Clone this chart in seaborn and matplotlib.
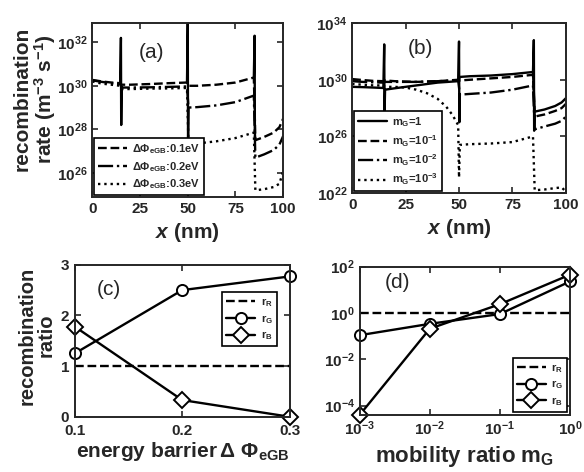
import numpy as np
import seaborn as sns
import matplotlib
matplotlib.use("Agg")
import matplotlib.pyplot as plt

"""Дані панелі (a): x у нм, показники степеня швидкості рекомбінації"""
a_x = [0, 5, 10, 14.6, 15.4, 20, 30, 40, 49.6, 50.4, 55, 65, 75, 84.6, 85.4, 90, 95, 98, 100]
a_exp_01 = [30.27, 30.2, 30.15, 30.12, 30.05, 30.05, 30.08, 30.12, 30.15, 30.0, 30.0, 30.05, 30.15, 30.38,
            27.5, 27.65, 27.85, 28.1, 28.5]
a_exp_02 = [30.25, 30.18, 30.12, 30.08, 29.92, 29.92, 29.93, 29.95, 29.97, 29.0, 29.02, 29.1, 29.25, 29.55,
            26.7, 26.85, 27.05, 27.3, 27.7]
a_exp_03 = [30.2, 30.1, 30.05, 30.0, 29.85, 29.85, 29.87, 29.88, 29.9, 27.3, 27.35, 27.45, 27.6, 27.85,
            25.2, 25.25, 25.35, 25.5, 26.1]
a_labels = [r'$\Delta\Phi_{eGB}$:0.1eV', r'$\Delta\Phi_{eGB}$:0.2eV', r'$\Delta\Phi_{eGB}$:0.3eV']
a_spike_x = [[14.6, 15.0, 15.15, 15.4], [49.6, 50.0, 50.15, 50.4], [84.6, 85.0, 85.15, 85.4]]
a_spike_exp = [[30.1, 32.2, 28.2, 29.95], [30.15, 32.9, 27.3, 29.0], [30.38, 32.3, 27.8, 27.5]]

"""Дані панелі (b)"""
b_x = a_x
b_exp_1 = [29.5, 29.48, 29.45, 29.42, 29.3, 29.4, 29.6, 29.8, 29.9, 30.2, 30.25, 30.3, 30.4, 30.55,
           27.75, 27.9, 28.15, 28.4, 28.7]
b_exp_m1 = [30.05, 29.98, 29.92, 29.9, 29.95, 29.9, 29.85, 29.9, 30.0, 29.95, 30.0, 30.1, 30.2, 30.35,
            27.4, 27.55, 27.8, 28.0, 28.3]
b_exp_m2 = [29.9, 29.85, 29.82, 29.8, 29.85, 29.85, 29.85, 29.9, 29.95, 28.95, 29.0, 29.1, 29.3, 29.6,
            26.5, 26.7, 26.9, 27.1, 27.4]
b_x_m3 = [0, 5, 10, 14.6, 15.4, 20, 25, 30, 35, 40, 44, 47, 49.6, 50.0, 50.4, 55, 65, 75, 84.6,
          85.4, 90, 95, 98, 100]
b_exp_m3 = [29.7, 29.65, 29.6, 29.6, 29.5, 29.5, 29.45, 29.3, 29.05, 28.65, 28.1, 27.5, 26.8, 23.1, 25.4,
            25.45, 25.5, 25.6, 26.0, 22.2, 22.25, 22.35, 22.4, 22.1]
b_labels = [r'm$_G$=1', r'm$_G$=10$^{-1}$', r'm$_G$=10$^{-2}$', r'm$_G$=10$^{-3}$']
b_spike_exp = [[29.45, 32.5, 27.6, 29.3], [29.95, 32.7, 27.0, 29.0], [30.55, 32.8, 26.4, 27.5]]

"""Дані панелі (c)"""
c_barrier = [0.1, 0.2, 0.3]
c_rR = [1, 1, 1]
c_rG = [1.25, 2.5, 2.77]
c_rB = [1.78, 0.33, 0.0]

"""Дані панелі (d)"""
d_mG = [1e-3, 1e-2, 1e-1, 1]
d_rR = [1, 1, 1, 1]
d_rG = [0.11, 0.34, 0.9, 23]
d_rB = [4e-5, 0.21, 2.4, 45]
r_labels = [r'r$_R$', r'r$_G$', r'r$_B$']

sns.set_style("ticks")
plt.rcParams['font.family'] = ['Liberation Sans', 'DejaVu Sans']
plt.rcParams['font.weight'] = 'bold'
plt.rcParams['mathtext.fontset'] = 'custom'
plt.rcParams['mathtext.rm'] = 'Liberation Sans:bold'
plt.rcParams['mathtext.bf'] = 'Liberation Sans:bold'
plt.rcParams['mathtext.it'] = 'Liberation Sans:bold:italic'
plt.rcParams['mathtext.default'] = 'bf'
plt.rcParams['axes.linewidth'] = 1.4

LW = 1.7
TICK_FS = 11
LABEL_FS = 15


def line(ax, x, y, ls, **kw):
	sns.lineplot(x=x, y=y, ax=ax, color='black', linestyle=ls, lw=LW, sort=False, estimator=None, **kw)


def style_axes(ax):
	ax.tick_params(direction='in', top=True, right=True, length=4, width=1.2, labelsize=TICK_FS)
	ax.minorticks_off()
	for lab in ax.get_xticklabels() + ax.get_yticklabels():
		lab.set_fontweight('bold')


def legend(ax, **kw):
	lg = ax.legend(fontsize=8, frameon=True, fancybox=False, framealpha=1, edgecolor='black',
				   handlelength=2.6, borderpad=0.35, labelspacing=0.35, handletextpad=0.5, **kw)
	lg.get_frame().set_linewidth(1.2)


fig = plt.figure(figsize=(5.84, 4.72), dpi=100)
ax_a = fig.add_axes([0.158, 0.583, 0.327, 0.369])
ax_b = fig.add_axes([0.603, 0.591, 0.366, 0.360])
ax_c = fig.add_axes([0.128, 0.117, 0.368, 0.322])
ax_d = fig.add_axes([0.616, 0.121, 0.360, 0.314])

"""Панель (a)"""
for exps, ls, lab in zip([a_exp_01, a_exp_02, a_exp_03], ['--', '-.', ':'], a_labels):
	line(ax_a, a_x, 10.0 ** np.array(exps), ls, label=lab)
for sx, se in zip(a_spike_x, a_spike_exp):
	line(ax_a, sx, 10.0 ** np.array(se), '-')
ax_a.set_yscale('log')
ax_a.set_xlim(0, 100)
ax_a.set_ylim(10 ** 24.9, 10 ** 32.9)
ax_a.set_xticks([0, 25, 50, 75, 100])
ax_a.set_yticks([1e26, 1e28, 1e30, 1e32], labels=[r'10$^{26}$', r'10$^{28}$', r'10$^{30}$', r'10$^{32}$'])
style_axes(ax_a)
ax_a.set_xlabel(r'$\mathit{x}$ (nm)', fontsize=LABEL_FS, fontweight='bold')
ax_a.set_ylabel('recombination\nrate (m$^{-3}$ s$^{-1}$)', fontsize=LABEL_FS, fontweight='bold', linespacing=1.0)
ax_a.yaxis.set_label_coords(-0.18, 0.56)
ax_a.text(0.31, 0.83, '(a)', transform=ax_a.transAxes, fontsize=15, fontweight='normal', ha='center', va='center')
legend(ax_a, loc='lower left', bbox_to_anchor=(0.0, 0.0), borderaxespad=0.15)

"""Панель (b)"""
for exps, ls, lab in zip([b_exp_1, b_exp_m1, b_exp_m2], ['-', '--', '-.'], b_labels[:3]):
	line(ax_b, b_x, 10.0 ** np.array(exps), ls, label=lab)
line(ax_b, b_x_m3, 10.0 ** np.array(b_exp_m3), ':', label=b_labels[3])
for sx, se in zip(a_spike_x, b_spike_exp):
	line(ax_b, sx, 10.0 ** np.array(se), '-')
ax_b.set_yscale('log')
ax_b.set_xlim(0, 100)
ax_b.set_ylim(1e22, 1e34)
ax_b.set_xticks([0, 25, 50, 75, 100])
ax_b.set_yticks([1e22, 1e26, 1e30, 1e34], labels=[r'10$^{22}$', r'10$^{26}$', r'10$^{30}$', r'10$^{34}$'])
style_axes(ax_b)
ax_b.set_xlabel(r'$\mathit{x}$ (nm)', fontsize=LABEL_FS, fontweight='bold')
ax_b.set_ylabel('')
ax_b.text(0.32, 0.85, '(b)', transform=ax_b.transAxes, fontsize=15, fontweight='normal', ha='center', va='center')
legend(ax_b, loc='lower left', bbox_to_anchor=(0.0, 0.0), borderaxespad=0.15)

"""Панель (c)"""
mk = dict(markersize=8, markerfacecolor='white', markeredgecolor='black', markeredgewidth=1.4, clip_on=False)
line(ax_c, c_barrier, c_rR, '--', label=r_labels[0])
line(ax_c, c_barrier, c_rG, '-', label=r_labels[1], marker='o', **mk)
line(ax_c, c_barrier, c_rB, '-', label=r_labels[2], marker='D', **mk)
ax_c.set_xlim(0.1, 0.3)
ax_c.set_ylim(0, 3)
ax_c.set_xticks([0.1, 0.2, 0.3], labels=['0.1', '0.2', '0.3'])
ax_c.set_yticks([0, 1, 2, 3])
style_axes(ax_c)
ax_c.tick_params(axis='x', pad=5)
ax_c.tick_params(axis='y', pad=4)
ax_c.set_xlabel(r'energy barrier$\,\Delta\ \Phi_{eGB}$', fontsize=LABEL_FS, fontweight='bold', labelpad=2)
ax_c.set_ylabel('recombination\nratio', fontsize=LABEL_FS - 0.5, fontweight='bold', linespacing=1.0)
ax_c.yaxis.set_label_coords(-0.09, 0.535)
ax_c.text(0.16, 0.84, '(c)', transform=ax_c.transAxes, fontsize=15, fontweight='normal', ha='center', va='center')
legend(ax_c, loc='upper right', bbox_to_anchor=(0.94, 0.82), borderaxespad=0.0)

"""Панель (d)"""
line(ax_d, d_mG, d_rR, '--', label=r_labels[0])
line(ax_d, d_mG, d_rG, '-', label=r_labels[1], marker='o', **mk)
line(ax_d, d_mG, d_rB, '-', label=r_labels[2], marker='D', **mk)
ax_d.set_xscale('log')
ax_d.set_yscale('log')
ax_d.set_xlim(1e-3, 1)
ax_d.set_ylim(10 ** -4.4, 1e2)
ax_d.set_xticks([1e-3, 1e-2, 1e-1, 1], labels=[r'10$^{-3}$', r'10$^{-2}$', r'10$^{-1}$', r'10$^{0}$'])
ax_d.set_yticks([1e-4, 1e-2, 1, 1e2], labels=[r'10$^{-4}$', r'10$^{-2}$', r'10$^{0}$', r'10$^{2}$'])
style_axes(ax_d)
ax_d.set_xlabel(r'mobility ratio m$_G$', fontsize=LABEL_FS + 1, fontweight='bold')
ax_d.set_ylabel('')
ax_d.text(0.18, 0.89, '(d)', transform=ax_d.transAxes, fontsize=15, fontweight='normal', ha='center', va='center')
legend(ax_d, loc='lower right', bbox_to_anchor=(0.986, 0.02), borderaxespad=0.0)

fig.savefig('out.png', dpi=100)
